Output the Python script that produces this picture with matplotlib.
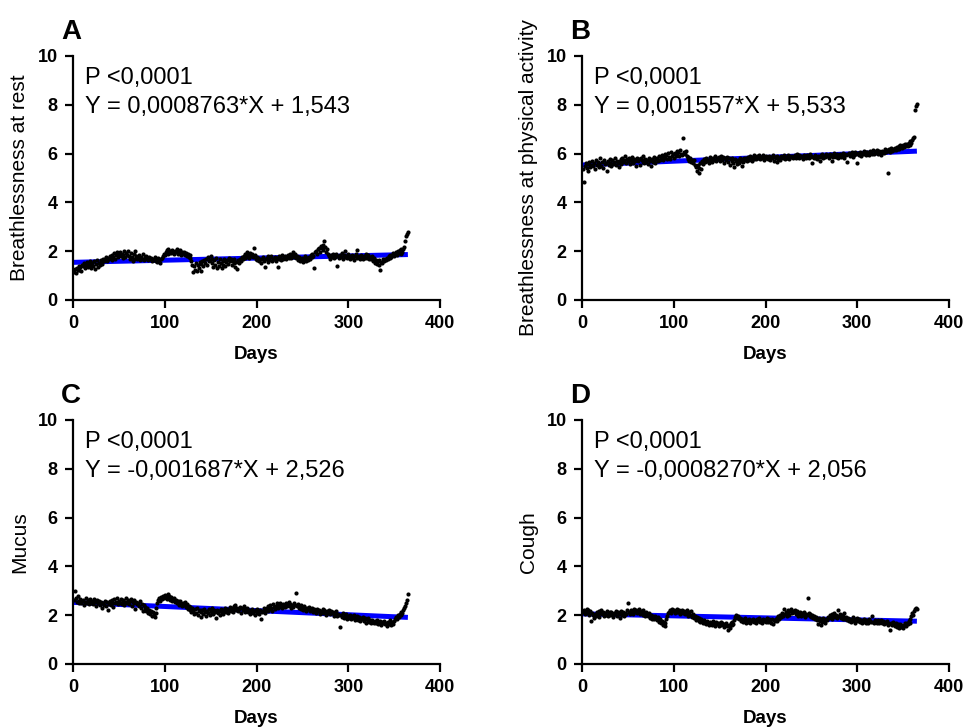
import numpy as np
import matplotlib
matplotlib.use("Agg")
import matplotlib.pyplot as plt

plt.rcParams['font.family'] = ['Liberation Sans', 'DejaVu Sans']

# daily mean scores, day 1..365
rest = [
    1.15, 1.28, 1.10, 1.32, 1.22, 1.40, 1.25, 1.35, 1.18, 1.42,
    1.38, 1.50, 1.30, 1.45, 1.55, 1.36, 1.48, 1.42, 1.60, 1.33,
    1.52, 1.40, 1.58, 1.27, 1.47, 1.62, 1.35, 1.50, 1.44, 1.56,
    1.62, 1.48, 1.70, 1.58, 1.66, 1.75, 1.60, 1.72, 1.68, 1.80,
    1.74, 1.65, 1.86, 1.78, 1.92, 1.70, 1.84, 1.95, 1.76, 1.88,
    1.98, 1.82, 1.90, 1.72, 1.86, 2.02, 1.78, 1.94, 1.85, 2.00,
    1.80, 1.68, 1.92, 1.75, 1.60, 1.88, 1.70, 2.00, 1.82, 1.66,
    1.74, 1.85, 1.62, 1.78, 1.70, 1.90, 1.64, 1.76, 1.68, 1.80,
    1.72, 1.62, 1.78, 1.66, 1.74, 1.58, 1.70, 1.64, 1.76, 1.60,
    1.68, 1.55, 1.72, 1.62, 1.50, 1.66, 1.74, 1.82, 1.90, 1.86,
    1.96, 2.04, 1.88, 2.10, 1.94, 2.00, 1.92, 2.06, 1.98, 1.90,
    2.02, 1.95, 2.08, 1.88, 1.99, 1.92, 2.04, 1.86, 1.96, 1.90,
    1.98, 1.85, 1.94, 1.80, 1.90, 1.78, 1.86, 1.72, 1.60, 1.45,
    1.15, 1.38, 1.25, 1.50, 1.20, 1.42, 1.30, 1.55, 1.18, 1.48,
    1.60, 1.40, 1.65, 1.52, 1.70, 1.45, 1.75, 1.58, 1.62, 1.80,
    1.50, 1.68, 1.35, 1.62, 1.45, 1.72, 1.30, 1.55, 1.40, 1.66,
    1.52, 1.32, 1.60, 1.45, 1.70, 1.38, 1.55, 1.62, 1.48, 1.74,
    1.58, 1.66, 1.42, 1.60, 1.52, 1.70, 1.36, 1.56, 1.28, 1.62,
    1.50, 1.68, 1.58, 1.75, 1.66, 1.82, 1.72, 1.90, 1.78, 1.95,
    1.85, 1.74, 1.92, 1.80, 1.88, 1.76, 2.12, 1.84, 1.70, 1.78,
    1.62, 1.74, 1.58, 1.70, 1.50, 1.66, 1.76, 1.60, 1.35, 1.68,
    1.72, 1.56, 1.80, 1.64, 1.75, 1.82, 1.58, 1.70, 1.66, 1.78,
    1.60, 1.72, 1.36, 1.68, 1.80, 1.74, 1.62, 1.84, 1.70, 1.76,
    1.82, 1.68, 1.78, 1.86, 1.72, 1.80, 1.90, 1.74, 1.84, 1.98,
    1.78, 1.88, 1.72, 1.82, 1.65, 1.76, 1.58, 1.70, 1.62, 1.74,
    1.55, 1.68, 1.80, 1.60, 1.72, 1.64, 1.78, 1.70, 1.85, 1.76,
    1.90, 1.82, 1.30, 1.95, 2.02, 1.88, 2.08, 2.15, 1.98, 2.20,
    2.12, 2.26, 2.05, 2.40, 2.18, 1.95, 2.08, 1.88, 1.80, 1.70,
    1.85, 1.76, 1.90, 1.72, 1.82, 1.78, 1.88, 1.40, 1.80, 1.74,
    1.86, 1.78, 1.92, 1.70, 1.84, 1.76, 2.02, 1.82, 1.74, 1.88,
    1.80, 1.68, 1.76, 1.84, 1.72, 1.64, 1.80, 1.90, 1.74, 2.06,
    1.78, 1.82, 1.70, 1.86, 1.76, 1.68, 1.80, 1.74, 1.88, 1.72,
    1.84, 1.76, 1.66, 1.78, 1.70, 1.82, 1.60, 1.74, 1.52, 1.64,
    1.48, 1.58, 1.45, 1.62, 1.22, 1.55, 1.50, 1.66, 1.58, 1.70,
    1.62, 1.74, 1.68, 1.80, 1.72, 1.86, 1.78, 1.84, 1.92, 1.80,
    1.88, 1.96, 1.84, 2.00, 1.92, 2.04, 1.90, 2.08, 1.98, 2.10,
    2.18, 2.40, 2.62, 2.72, 2.80,
]

activity = [
    5.35, 4.82, 5.50, 5.62, 5.40, 5.58, 5.28, 5.66, 5.45, 5.55,
    5.70, 5.48, 5.60, 5.38, 5.72, 5.52, 5.64, 5.44, 5.58, 5.80,
    5.50, 5.66, 5.42, 5.74, 5.56, 5.62, 5.30, 5.68, 5.54, 5.76,
    5.60, 5.48, 5.72, 5.58, 5.66, 5.82, 5.52, 5.70, 5.62, 5.44,
    5.68, 5.78, 5.56, 5.84, 5.64, 5.72, 5.90, 5.60, 5.76, 5.70,
    5.82, 5.58, 5.74, 5.66, 5.88, 5.62, 5.78, 5.70, 5.50, 5.80,
    5.68, 5.76, 5.54, 5.84, 5.72, 5.64, 5.90, 5.60, 5.78, 5.66,
    5.74, 5.58, 5.82, 5.68, 5.50, 5.76, 5.64, 5.86, 5.70, 5.62,
    5.78, 5.84, 5.68, 5.92, 5.74, 5.80, 5.96, 5.72, 5.88, 6.00,
    5.82, 5.94, 5.78, 6.02, 5.88, 5.76, 6.06, 5.90, 5.98, 5.84,
    6.04, 5.92, 6.10, 5.96, 6.08, 5.90, 6.14, 6.00, 5.94, 6.62,
    6.06, 5.98, 6.12, 5.92, 5.86, 5.78, 5.70, 5.82, 5.66, 5.74,
    5.60, 5.72, 5.52, 5.46, 5.30, 5.54, 5.20, 5.42, 5.62, 5.36,
    5.70, 5.58, 5.76, 5.64, 5.80, 5.68, 5.74, 5.62, 5.86, 5.72,
    5.78, 5.66, 5.84, 5.74, 5.90, 5.70, 5.82, 5.76, 5.88, 5.68,
    5.80, 5.92, 5.74, 5.86, 5.60, 5.80, 5.72, 5.88, 5.66, 5.82,
    5.54, 5.76, 5.84, 5.70, 5.60, 5.46, 5.78, 5.68, 5.58, 5.74,
    5.62, 5.82, 5.70, 5.50, 5.76, 5.64, 5.84, 5.72, 5.80, 5.68,
    5.86, 5.74, 5.92, 5.80, 5.70, 5.88, 5.76, 5.94, 5.82, 5.78,
    5.90, 5.84, 5.96, 5.76, 5.88, 5.82, 5.94, 5.72, 5.86, 5.80,
    5.92, 5.84, 5.78, 5.90, 5.74, 5.86, 5.80, 5.96, 5.70, 5.88,
    5.82, 5.64, 5.90, 5.78, 5.84, 5.74, 5.92, 5.86, 5.80, 5.94,
    5.76, 5.88, 5.82, 5.96, 5.84, 5.78, 5.90, 5.86, 5.92, 5.80,
    5.88, 5.94, 5.84, 5.98, 5.90, 5.82, 5.96, 5.88, 5.92, 5.86,
    5.78, 5.94, 5.88, 5.84, 5.96, 5.90, 5.82, 5.98, 5.86, 5.92,
    5.62, 5.88, 5.80, 5.96, 5.84, 5.76, 5.92, 5.86, 5.70, 5.94,
    5.88, 5.98, 5.82, 5.92, 5.86, 6.00, 5.90, 5.94, 5.84, 5.98,
    5.90, 5.70, 5.96, 5.86, 6.02, 5.92, 5.88, 5.98, 5.80, 5.94,
    6.00, 5.88, 5.96, 6.04, 5.92, 5.84, 6.00, 5.94, 5.66, 5.98,
    6.04, 5.90, 5.96, 6.06, 5.88, 6.00, 5.94, 6.08, 5.98, 5.62,
    6.02, 5.96, 6.08, 5.92, 6.04, 5.98, 6.10, 6.00, 6.06, 5.94,
    6.08, 6.02, 5.96, 6.12, 6.04, 6.00, 6.14, 5.98, 6.06, 6.10,
    6.04, 6.16, 6.00, 6.10, 6.06, 5.96, 6.12, 6.08, 6.02, 6.18,
    6.06, 6.14, 6.10, 5.20, 6.18, 6.08, 6.22, 6.12, 6.20, 6.16,
    6.24, 6.14, 6.28, 6.20, 6.30, 6.18, 6.34, 6.26, 6.22, 6.36,
    6.28, 6.40, 6.32, 6.38, 6.30, 6.44, 6.36, 6.50, 6.42, 6.56,
    6.62, 6.70, 7.78, 7.94, 8.02,
]

mucus = [
    2.62, 2.98, 2.70, 2.55, 2.80, 2.60, 2.48, 2.66, 2.52, 2.58,
    2.64, 2.42, 2.56, 2.70, 2.50, 2.62, 2.46, 2.58, 2.66, 2.52,
    2.60, 2.44, 2.68, 2.54, 2.36, 2.62, 2.50, 2.58, 2.40, 2.56,
    2.48, 2.30, 2.52, 2.42, 2.60, 2.38, 2.54, 2.20, 2.46, 2.58,
    2.40, 2.62, 2.50, 2.34, 2.66, 2.48, 2.56, 2.72, 2.44, 2.60,
    2.52, 2.68, 2.46, 2.58, 2.64, 2.40, 2.56, 2.70, 2.50, 2.62,
    2.44, 2.58, 2.66, 2.36, 2.54, 2.62, 2.48, 2.24, 2.56, 2.46,
    2.52, 2.38, 2.60, 2.30, 2.44, 2.18, 2.40, 2.34, 2.26, 2.16,
    2.28, 2.10, 2.22, 2.04, 2.18, 1.96, 2.12, 2.02, 1.92, 2.08,
    2.30, 2.50, 2.62, 2.70, 2.58, 2.76, 2.66, 2.80, 2.72, 2.84,
    2.74, 2.68, 2.86, 2.70, 2.78, 2.62, 2.74, 2.58, 2.66, 2.72,
    2.56, 2.64, 2.48, 2.60, 2.52, 2.42, 2.58, 2.46, 2.36, 2.50,
    2.40, 2.54, 2.32, 2.44, 2.26, 2.38, 2.20, 2.34, 2.14, 2.28,
    2.18, 2.04, 2.24, 2.10, 2.30, 2.00, 2.16, 2.22, 1.94, 2.12,
    2.20, 2.06, 2.26, 2.14, 1.98, 2.18, 2.08, 2.24, 2.02, 2.16,
    2.10, 2.28, 2.04, 2.20, 2.12, 1.90, 2.22, 2.08, 2.16, 2.02,
    2.24, 2.12, 2.20, 2.06, 2.18, 2.30, 2.14, 2.26, 2.08, 2.22,
    2.32, 2.18, 2.28, 2.12, 2.36, 2.24, 2.40, 2.20, 2.30, 2.16,
    2.26, 2.34, 2.10, 2.28, 2.20, 2.38, 2.14, 2.24, 2.18, 2.30,
    2.12, 2.22, 2.06, 2.18, 2.26, 2.08, 2.16, 2.02, 2.20, 2.10,
    2.24, 2.14, 2.06, 2.20, 1.84, 2.12, 2.18, 2.28, 2.08, 2.22,
    2.30, 2.16, 2.36, 2.24, 2.40, 2.28, 2.18, 2.44, 2.32, 2.26,
    2.38, 2.48, 2.30, 2.42, 2.34, 2.52, 2.36, 2.28, 2.46, 2.40,
    2.32, 2.50, 2.38, 2.44, 2.56, 2.36, 2.46, 2.30, 2.42, 2.34,
    2.48, 2.40, 2.92, 2.36, 2.44, 2.30, 2.38, 2.26, 2.40, 2.32,
    2.22, 2.36, 2.28, 2.18, 2.30, 2.24, 2.34, 2.16, 2.26, 2.20,
    2.30, 2.14, 2.24, 2.18, 2.10, 2.26, 2.16, 2.22, 2.06, 2.18,
    2.12, 2.24, 2.08, 2.20, 2.14, 2.02, 2.16, 2.10, 2.22, 2.04,
    2.18, 2.08, 2.14, 1.98, 2.10, 2.04, 2.16, 1.96, 2.06, 2.00,
    1.52, 2.02, 1.94, 2.08, 1.88, 2.00, 1.92, 2.06, 1.86, 1.98,
    1.90, 2.02, 1.84, 1.96, 1.88, 2.00, 1.80, 1.94, 1.86, 1.98,
    1.82, 1.92, 1.76, 1.88, 1.84, 1.94, 1.78, 1.90, 1.70, 1.84,
    1.76, 1.88, 1.72, 1.80, 1.68, 1.82, 1.74, 1.66, 1.78, 1.70,
    1.80, 1.64, 1.74, 1.68, 1.78, 1.60, 1.72, 1.66, 1.76, 1.62,
    1.70, 1.56, 1.74, 1.64, 1.80, 1.68, 1.58, 1.72, 1.62, 1.76,
    1.84, 1.92, 1.86, 2.00, 1.94, 2.06, 2.00, 2.14, 2.08, 2.20,
    2.28, 2.36, 2.48, 2.62, 2.86,
]

cough = [
    2.12, 2.22, 2.04, 2.18, 2.26, 2.10, 2.20, 2.02, 2.16, 1.78,
    2.08, 2.00, 1.90, 2.06, 1.96, 2.12, 2.02, 2.18, 1.94, 2.08,
    2.20, 2.04, 2.14, 1.98, 2.10, 2.02, 2.16, 1.96, 2.08, 2.12,
    2.00, 2.14, 2.06, 1.92, 2.10, 2.04, 2.18, 1.98, 2.12, 2.06,
    1.90, 2.08, 2.16, 2.02, 2.12, 1.96, 2.10, 2.04, 2.20, 2.48,
    2.14, 2.06, 2.22, 2.10, 2.18, 2.04, 2.26, 2.12, 2.20, 2.08,
    2.16, 2.24, 2.06, 2.18, 2.12, 2.02, 2.20, 2.10, 1.98, 2.14,
    2.04, 1.96, 2.10, 1.90, 2.02, 1.86, 1.98, 1.92, 1.84, 1.96,
    1.88, 1.80, 1.92, 1.74, 1.86, 1.66, 1.78, 1.60, 1.72, 1.56,
    1.70, 1.84, 1.96, 2.08, 2.14, 2.20, 2.10, 2.24, 2.16, 2.22,
    2.08, 2.18, 2.12, 2.26, 2.14, 2.20, 2.06, 2.16, 2.22, 2.10,
    2.18, 2.04, 2.14, 2.20, 2.08, 1.98, 2.12, 2.02, 2.16, 1.94,
    2.06, 1.88, 1.98, 1.82, 1.94, 1.86, 1.76, 1.90, 1.72, 1.84,
    1.78, 1.66, 1.82, 1.70, 1.62, 1.76, 1.68, 1.58, 1.74, 1.64,
    1.70, 1.60, 1.76, 1.66, 1.56, 1.72, 1.62, 1.68, 1.54, 1.66,
    1.74, 1.58, 1.68, 1.62, 1.50, 1.64, 1.70, 1.56, 1.40, 1.60,
    1.48, 1.66, 1.58, 1.72, 1.64, 1.82, 1.92, 2.00, 1.88, 1.96,
    1.84, 1.90, 1.78, 1.86, 1.72, 1.82, 1.76, 1.88, 1.70, 1.80,
    1.74, 1.84, 1.68, 1.80, 1.76, 1.86, 1.72, 1.82, 1.78, 1.70,
    1.84, 1.76, 1.88, 1.74, 1.80, 1.70, 1.86, 1.78, 1.82, 1.72,
    1.80, 1.88, 1.74, 1.84, 1.78, 1.70, 1.86, 1.64, 1.80, 1.76,
    1.84, 1.90, 1.78, 1.96, 1.86, 2.02, 1.92, 2.08, 1.98, 2.26,
    2.04, 2.14, 1.96, 2.10, 2.20, 2.02, 2.16, 2.24, 2.08, 2.18,
    2.12, 2.22, 2.06, 2.16, 1.98, 2.10, 2.04, 2.14, 1.96, 2.08,
    2.02, 2.12, 1.94, 2.06, 2.00, 2.72, 2.10, 1.96, 2.04, 1.92,
    2.00, 1.88, 1.98, 1.84, 1.94, 1.80, 1.62, 1.88, 1.76, 1.60,
    1.84, 1.74, 1.90, 1.78, 1.70, 1.86, 1.80, 1.94, 1.88, 2.00,
    1.92, 2.04, 1.86, 1.98, 2.10, 1.94, 2.02, 1.88, 2.20, 1.96,
    2.06, 1.90, 2.00, 1.86, 1.96, 2.08, 1.84, 1.94, 1.80, 1.90,
    1.78, 1.86, 1.74, 1.82, 1.92, 1.76, 1.84, 1.70, 1.80, 1.88,
    1.76, 1.84, 1.72, 1.80, 1.68, 1.78, 1.86, 1.74, 1.82, 1.70,
    1.78, 1.66, 1.84, 1.76, 1.72, 1.96, 1.74, 1.68, 1.80, 1.72,
    1.76, 1.70, 1.82, 1.66, 1.74, 1.80, 1.68, 1.76, 1.62, 1.72,
    1.66, 1.78, 1.60, 1.70, 1.64, 1.38, 1.68, 1.58, 1.72, 1.62,
    1.54, 1.66, 1.50, 1.62, 1.56, 1.48, 1.64, 1.52, 1.60, 1.46,
    1.58, 1.66, 1.54, 1.70, 1.62, 1.76, 1.68, 1.84, 1.96, 2.08,
    2.00, 2.18, 2.26, 2.30, 2.24,
]

panels = ['A', 'B', 'C', 'D']
ylabels = ['Breathlessness at rest', 'Breathlessness at physical activity', 'Mucus', 'Cough']
series = [rest, activity, mucus, cough]
slopes = [0.0008763, 0.001557, -0.001687, -0.0008270]
intercepts = [1.543, 5.533, 2.526, 2.056]
eq_text = ['Y = 0,0008763*X + 1,543', 'Y = 0,001557*X + 5,533',
           'Y = -0,001687*X + 2,526', 'Y = -0,0008270*X + 2,056']
p_text = 'P <0,0001'

fig = plt.figure(figsize=(9.64, 7.28), dpi=100)
W, H = 964, 728
boxes = [(73, 300), (582, 300), (73, 664), (582, 664)]

for i in range(4):
    x0, y0 = boxes[i]
    ax = fig.add_axes([x0 / W, 1 - y0 / H, 367 / W, 244 / H])
    y = np.array(series[i])
    days = np.arange(1, len(y) + 1)

    xf = np.array([0, 365])
    ax.plot(xf, slopes[i] * xf + intercepts[i], color='#0000ff', lw=3.6,
            solid_capstyle='butt', zorder=2)
    ax.scatter(days, y, s=9, color='black', linewidths=0, zorder=3)

    ax.set_xlim(0, 400)
    ax.set_ylim(0, 10)
    ax.set_xticks([0, 100, 200, 300, 400])
    ax.set_yticks([0, 2, 4, 6, 8, 10])
    for s in ['top', 'right']:
        ax.spines[s].set_visible(False)
    for s in ['left', 'bottom']:
        ax.spines[s].set_linewidth(1.6)
    ax.tick_params(direction='out', length=6, width=1.6, labelsize=13, pad=5)
    for lab in ax.get_xticklabels() + ax.get_yticklabels():
        lab.set_fontweight('bold')
    ax.set_xlabel('Days', fontsize=13.5, fontweight='bold', labelpad=10)
    ax.set_ylabel(ylabels[i], fontsize=15, labelpad=6)

    ax.text(0.033, 0.885, p_text, transform=ax.transAxes, fontsize=17, va='baseline')
    ax.text(0.033, 0.766, eq_text[i], transform=ax.transAxes, fontsize=17, va='baseline')
    ax.text(-0.032, 1.045, panels[i], transform=ax.transAxes, fontsize=20,
            fontweight='bold', va='bottom', ha='left')

fig.savefig('out.png', dpi=100)
